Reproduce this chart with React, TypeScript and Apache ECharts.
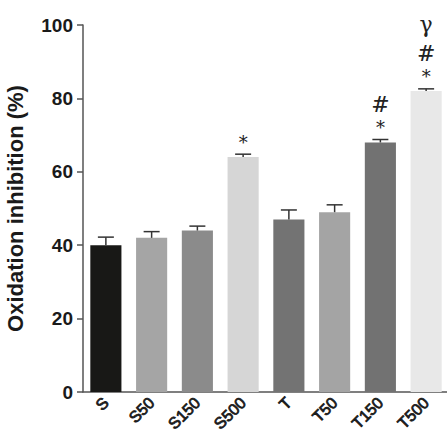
import React, { useEffect, useRef } from "react";
import * as echarts from "echarts";

const categories = ["S", "S50", "S150", "S500", "T", "T50", "T150", "T500"];
const values = [40, 42, 44, 64, 47, 49, 68, 82];
const errors = [2.2, 1.7, 1.2, 0.8, 2.6, 2.0, 0.8, 0.6];
const barColors = ["#181816", "#a5a5a5", "#8b8b8b", "#d6d6d6", "#737373", "#a4a4a4", "#727272", "#e8e8e8"];
const annotations: string[][] = [[], [], [], ["*"], [], [], ["*", "#"], ["*", "#", "γ"]];
const yTicks = [0, 20, 40, 60, 80, 100];

const SANS = "Liberation Sans";

export default function App() {
  const ref = useRef<HTMLDivElement>(null);
  useEffect(() => {
    if (!ref.current) return;
    const chart = echarts.init(ref.current, null, { renderer: "svg" });
    const annOffsets = [-12, -35, -64];
    const annSizes = [18, 22, 22];
    chart.setOption({
      animation: false,
      grid: { left: 83, top: 25, width: 366, bottom: 56, outerBoundsMode: "none" },
      xAxis: {
        type: "category",
        data: categories,
        axisLine: { lineStyle: { color: "#555", width: 1.5 } },
        axisTick: { alignWithLabel: true, length: 7, lineStyle: { color: "#555", width: 1.5 } },
        axisLabel: {
          rotate: 45,
          interval: 0,
          fontSize: 16,
          color: "#1a1a1a",
          textBorderColor: "#1a1a1a",
          textBorderWidth: 0.8,
        },
      },
      yAxis: {
        type: "value",
        min: yTicks[0],
        max: yTicks[yTicks.length - 1],
        interval: 20,
        name: "Oxidation inhibition (%)",
        nameLocation: "middle",
        nameGap: 57,
        nameRotate: 90,
        nameTextStyle: {
          fontFamily: SANS,
          fontWeight: "bold",
          fontSize: 22,
          color: "#1a1a1a",
        },
        splitLine: { show: false },
        axisLine: { show: true, lineStyle: { color: "#555", width: 1.5 } },
        axisTick: { show: true, length: 6, lineStyle: { color: "#555", width: 1.5 } },
        axisLabel: {
          margin: 10,
          fontFamily: SANS,
          fontWeight: "bold",
          fontSize: 19,
          color: "#1a1a1a",
        },
      },
      series: [
        {
          type: "bar",
          barCategoryGap: "32%",
          data: values.map((v, i) => ({ value: v, itemStyle: { color: barColors[i] } })),
        },
        {
          type: "custom",
          itemStyle: { color: "#222" },
          data: values.map((v, i) => [i, v, v + errors[i]]),
          z: 5,
          clip: false,
          renderItem: (params: any, api: any) => {
            const i = api.value(0);
            const base = api.coord([i, api.value(1)]);
            const top = api.coord([i, api.value(2)]);
            const capW = 8;
            const children: any[] = [
              { type: "line", shape: { x1: base[0], y1: base[1], x2: top[0], y2: top[1] }, style: { stroke: "#333", lineWidth: 1.5 } },
              { type: "line", shape: { x1: top[0] - capW, y1: top[1], x2: top[0] + capW, y2: top[1] }, style: { stroke: "#333", lineWidth: 1.5 } },
            ];
            annotations[i].forEach((s, k) => {
              children.push({
                type: "text",
                x: top[0],
                y: top[1] + annOffsets[k],
                style: {
                  text: s,
                  fill: "#222",
                  fontSize: annSizes[k],
                  fontFamily: "DejaVu Serif, Liberation Serif, serif",
                  align: "center",
                  verticalAlign: "middle",
                },
              });
            });
            return { type: "group", children };
          },
        },
      ],
    });
    return () => chart.dispose();
  }, []);
  return <div ref={ref} style={{ width: 447, height: 448, position: "absolute", left: 0, top: 0 }} />;
}
